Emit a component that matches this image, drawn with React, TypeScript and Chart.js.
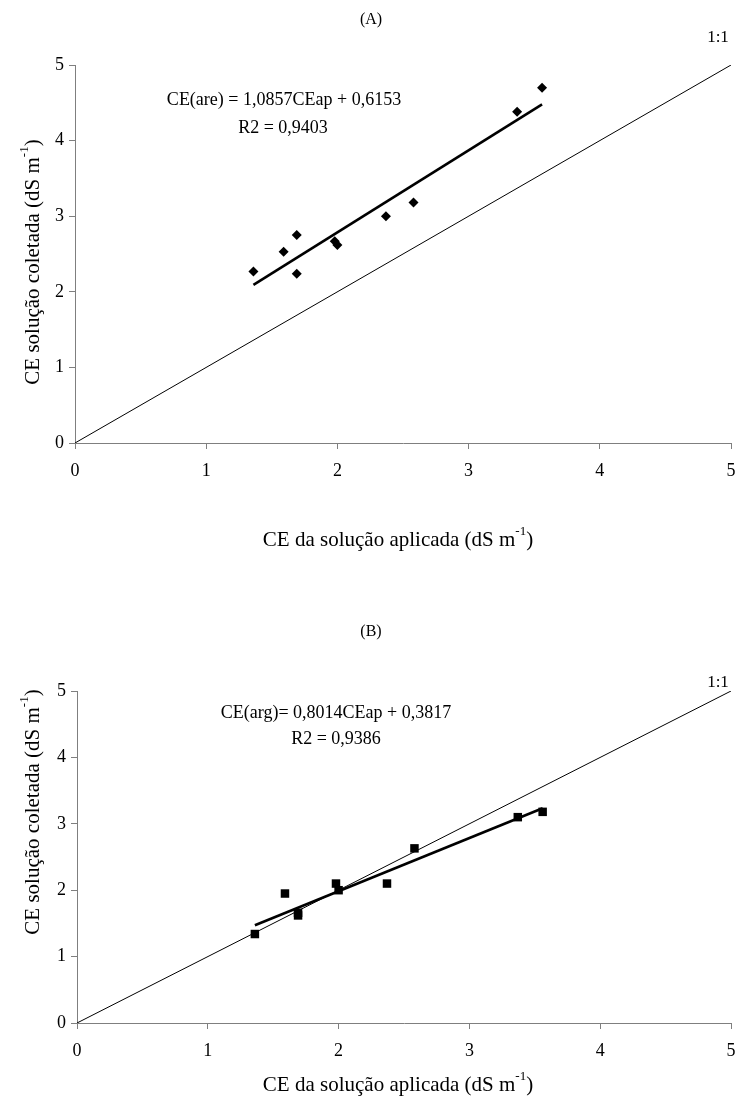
import React, { useEffect, useRef } from "react";
import { Chart, registerables } from "chart.js";
Chart.register(...registerables);

// ---------- data ----------
const appliedA = [1.36, 1.59, 1.69, 1.69, 1.98, 2.0, 2.37, 2.58, 3.37, 3.56];
const collectedA = [2.27, 2.53, 2.75, 2.24, 2.67, 2.62, 3.0, 3.18, 4.38, 4.7];
const appliedB = [1.36, 1.59, 1.69, 1.69, 1.98, 2.0, 2.37, 2.58, 3.37, 3.56];
const collectedB = [1.34, 1.95, 1.66, 1.62, 2.1, 2.0, 2.1, 2.63, 3.1, 3.18];
const fitA = [1.0857, 0.6153]; // slope, intercept
const fitB = [0.8014, 0.3817];
const axisTicks = [0, 1, 2, 3, 4, 5];
const identityLine = [0, 5];

const FONT = "'Liberation Serif', 'Times New Roman', serif";

type Seg = { t: string; sup?: boolean };
type TextItem = { segs: Seg[]; x: number; y: number; size: number; rotate?: boolean };

const xTitle: Seg[] = [{ t: "CE da solução aplicada (dS m" }, { t: "-1", sup: true }, { t: ")" }];
const yTitle: Seg[] = [{ t: "CE solução coletada (dS m" }, { t: "-1", sup: true }, { t: ")" }];

function drawSegs(ctx: CanvasRenderingContext2D, item: TextItem) {
  const small = Math.round(item.size * 0.6);
  let total = 0;
  const widths = item.segs.map((s) => {
    ctx.font = `${s.sup ? small : item.size}px ${FONT}`;
    const w = ctx.measureText(s.t).width;
    total += w;
    return w;
  });
  ctx.save();
  ctx.translate(item.x, item.y);
  if (item.rotate) ctx.rotate(-Math.PI / 2);
  ctx.fillStyle = "#000";
  ctx.textBaseline = "middle";
  ctx.textAlign = "left";
  let cx = -total / 2;
  item.segs.forEach((s, i) => {
    ctx.font = `${s.sup ? small : item.size}px ${FONT}`;
    ctx.fillText(s.t, cx, s.sup ? -item.size * 0.42 : 0);
    cx += widths[i];
  });
  ctx.restore();
}

function makeConfig(
  applied: number[],
  collected: number[],
  fit: number[],
  pointStyle: string,
  pad: { top: number; bottom: number },
  yWidth: number,
  texts: TextItem[]
): any {
  const xmin = Math.min(...applied);
  const xmax = Math.max(...applied);
  const trend = [xmin, xmax].map((x) => ({ x, y: fit[0] * x + fit[1] }));
  const axis = (isY: boolean) => ({
    type: "linear",
    min: 0,
    max: 5,
    afterBuildTicks: (s: any) => {
      s.ticks = axisTicks.map((v) => ({ value: v }));
    },
    afterFit: (s: any) => {
      if (isY) {
        s.width = yWidth;
        s.paddingTop = 0;
        s.paddingBottom = 0;
      } else {
        s.height = 40;
        s.paddingLeft = 0;
        s.paddingRight = 0;
      }
    },
    ticks: {
      font: { family: FONT, size: 18 },
      color: "#000",
      padding: isY ? 5 : 11,
    },
    grid: {
      drawOnChartArea: false,
      drawTicks: true,
      tickLength: 6,
      color: "#7f7f7f",
      tickColor: "#7f7f7f",
    },
    border: { display: true, color: "#7f7f7f", width: 1 },
  });
  return {
    type: "scatter",
    data: {
      datasets: [
        {
          data: identityLine.map((v) => ({ x: v, y: v })),
          showLine: true,
          borderColor: "#000",
          borderWidth: 1,
          pointRadius: 0,
        },
        {
          data: trend,
          showLine: true,
          borderColor: "#000",
          borderWidth: 2.6,
          pointRadius: 0,
        },
        {
          data: applied.map((x, i) => ({ x, y: collected[i] })),
          pointStyle,
          pointRadius: pointStyle === "rect" ? 6 : 5,
          backgroundColor: "#000",
          borderColor: "#000",
          borderWidth: 0,
        },
      ],
    },
    options: {
      responsive: false,
      animation: false,
      devicePixelRatio: 1,
      layout: { padding: { top: pad.top, right: 10, bottom: pad.bottom, left: 0 } },
      plugins: { legend: { display: false }, tooltip: { enabled: false } },
      scales: { x: axis(false), y: axis(true) },
    },
    plugins: [
      {
        id: "texts",
        afterDraw(chart: any) {
          const ctx = chart.ctx;
          texts.forEach((t) => drawSegs(ctx, t));
        },
      },
    ],
  };
}

function ChartCanvas({ config, width, height, top }: any) {
  const ref = useRef<HTMLCanvasElement>(null);
  useEffect(() => {
    const chart = new Chart(ref.current as HTMLCanvasElement, config);
    return () => chart.destroy();
  }, []);
  return (
    <canvas
      ref={ref}
      width={width}
      height={height}
      style={{ position: "absolute", left: 0, top, width, height }}
    />
  );
}

const textsA: TextItem[] = [
  { segs: [{ t: "(A)" }], x: 371, y: 20, size: 16 },
  { segs: [{ t: "1:1" }], x: 718, y: 38, size: 17 },
  { segs: [{ t: "CE(are) = 1,0857CEap + 0,6153" }], x: 284, y: 100, size: 18 },
  { segs: [{ t: "R2 = 0,9403" }], x: 283, y: 128, size: 18 },
  { segs: xTitle, x: 398, y: 540, size: 21 },
  { segs: yTitle, x: 33, y: 262, size: 21, rotate: true },
];

const textsB: TextItem[] = [
  { segs: [{ t: "(B)" }], x: 371, y: 72, size: 16 },
  { segs: [{ t: "1:1" }], x: 718, y: 123, size: 17 },
  { segs: [{ t: "CE(arg)= 0,8014CEap + 0,3817" }], x: 336, y: 153, size: 18 },
  { segs: [{ t: "R2 = 0,9386" }], x: 336, y: 179, size: 18 },
  { segs: xTitle, x: 398, y: 525, size: 21 },
  { segs: yTitle, x: 33, y: 252, size: 21, rotate: true },
];

export default function App() {
  const configA = makeConfig(appliedA, collectedA, fitA, "rectRot", { top: 65, bottom: 560 - 443 - 40 }, 75, textsA);
  const configB = makeConfig(appliedB, collectedB, fitB, "rect", { top: 131, bottom: 548 - 463 - 40 }, 77, textsB);
  return (
    <div style={{ position: "absolute", left: 0, top: 0, width: 741, height: 1108, background: "#fff" }}>
      <ChartCanvas config={configA} width={741} height={560} top={0} />
      <ChartCanvas config={configB} width={741} height={548} top={560} />
    </div>
  );
}
